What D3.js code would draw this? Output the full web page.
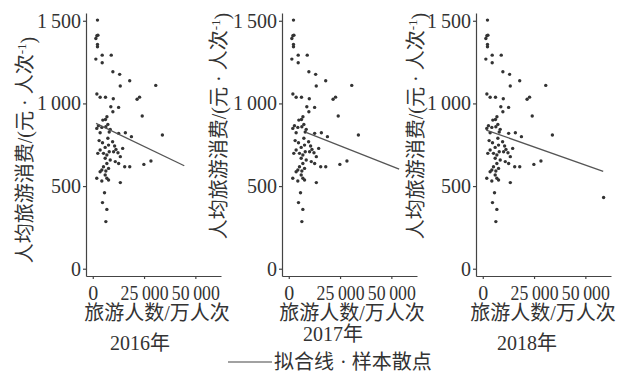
<!DOCTYPE html>
<html><head><meta charset="utf-8">
<script src="https://cdn.jsdelivr.net/npm/d3@7"></script>
<style>
html,body{margin:0;padding:0;background:#fff;}
svg{display:block;}
text{font-family:"Liberation Serif","Noto Sans CJK SC",serif;fill:#333;}
</style></head>
<body>
<svg id="chart" width="630" height="375"></svg>
<script>
// ---------- data ----------
const years = ["2016年", "2017年", "2018年"];
const xTicks = [0, 25000, 50000];
const yTicks = [0, 500, 1000, 1500];
const xLabel = "旅游人数/万人次";
const legendLine = "拟合线";
const legendDot = "· 样本散点";
// sample points (tourists, 10k person-times) shared by all three panels
const sampleX = [2300,2000,2500,1500,2300,2300,4600,9000,1500,4600,9800,13100,18000,13400,30700,2000,3600,6200,10000,21600,22800,8800,12600,9800,24100,6900,6200,4900,
  2770,4410,1950,6380,7360,8510,8020,3590,12610,15890,18840,33930,3100,4740,7360,9660,7690,10640,11300,6050,3590,2440,5230,6870,8020,10150,12280,14580,13430,6050,8510,6870,10970,12610,15560,18020,24910,28350,5230,7690,4410,3590,6380,1950,4410,6870,7690,13430,6050,5720,4740,6870,6380];
const sampleY = [1504,1409,1413,1393,1357,1343,1292,1292,1268,1246,1192,1176,1137,1105,1109,1057,1037,1037,1028,1025,1038,980,976,950,924,919,903,899,
  865,855,849,859,873,843,827,823,819,823,799,809,775,762,789,768,748,742,722,734,718,698,698,688,708,708,702,728,678,668,658,637,648,637,617,617,631,652,617,607,597,587,591,547,531,547,537,521,567,460,400,359,285];
// extra point only in 2018
const extraX = [[], [], [58900]];
const extraY = [[], [], [431]];
// fitted line endpoints per year
const fitX = [[1600, 44600], [8700, 53800], [1700, 58700]];
const fitY = [[879, 623], [823, 603], [839, 589]];

// ---------- layout ----------
const svg = d3.select("#chart");
const axisLeftX = [86, 282, 476];
const plotW = 135, plotTop = 13, plotBottom = 276;
const yLabelX = [25, 219, 416];
const yLabelY = [150, 126, 126];
const xLabelX = [157, 352, 543];
const titleX = [140, 333, 527];
const titleY = [350, 341, 350];
const fmt = v => v >= 1000 ? d3.format(",")(v).replace(",", "\u2009") : String(v);

years.forEach((yr, i) => {
  const x = d3.scaleLinear().domain([-3300, 62500]).range([axisLeftX[i], axisLeftX[i] + plotW]);
  const y = d3.scaleLinear().domain([-44, 1547]).range([plotBottom, plotTop]);
  const g = svg.append("g");

  const ax = g.append("g").attr("transform", `translate(0,${plotBottom})`)
    .call(d3.axisBottom(x).tickValues(xTicks).tickFormat(fmt).tickSize(3).tickSizeOuter(0).tickPadding(7));
  const ay = g.append("g").attr("transform", `translate(${axisLeftX[i]},0)`)
    .call(d3.axisLeft(y).tickValues(yTicks).tickFormat(fmt).tickSize(3).tickSizeOuter(0).tickPadding(2));
  [ax, ay].forEach(a => {
    a.selectAll("path,line").attr("stroke", "#444").attr("stroke-width", 1.2);
    a.selectAll("text").style("font-size", "20px").attr("fill", "#333");
  });
  ax.selectAll(".tick text").filter(d => d >= 10000)
    .attr("textLength", 48).attr("lengthAdjust", "spacingAndGlyphs");

  const pts = sampleX.map((v, k) => [v, sampleY[k]]).concat(extraX[i].map((v, k) => [v, extraY[i][k]]));
  g.append("g").selectAll("circle").data(pts).join("circle")
    .attr("cx", d => x(d[0])).attr("cy", d => y(d[1])).attr("r", 1.7).attr("fill", "#333");

  g.append("line")
    .attr("x1", x(fitX[i][0])).attr("y1", y(fitY[i][0]))
    .attr("x2", x(fitX[i][1])).attr("y2", y(fitY[i][1]))
    .attr("stroke", "#555").attr("stroke-width", 1.3);

  // y label
  const yl = g.append("text")
    .attr("transform", `translate(${yLabelX[i]},${yLabelY[i]}) rotate(-90)`)
    .attr("text-anchor", "middle").attr("dy", "0.35em").style("font-size", "20px");
  yl.append("tspan").text("人均旅游消费/(元 · 人次");
  yl.append("tspan").attr("dy", "-0.45em").style("font-size", "13px").text("-1");
  yl.append("tspan").attr("dy", "0.45em").text(")");

  g.append("text").attr("x", xLabelX[i]).attr("y", 320).attr("text-anchor", "middle")
    .style("font-size", "20px").text(xLabel);
  g.append("text").attr("x", titleX[i]).attr("y", titleY[i]).attr("text-anchor", "middle")
    .style("font-size", "20px").text(yr);
});

// legend
svg.append("line").attr("x1", 228).attr("x2", 272).attr("y1", 362).attr("y2", 362)
  .attr("stroke", "#444").attr("stroke-width", 1.2);
svg.append("text").attr("x", 274).attr("y", 369).style("font-size", "20px").text(legendLine);
svg.append("text").attr("x", 340).attr("y", 369).style("font-size", "20px").text(legendDot);
</script>
</body></html>
